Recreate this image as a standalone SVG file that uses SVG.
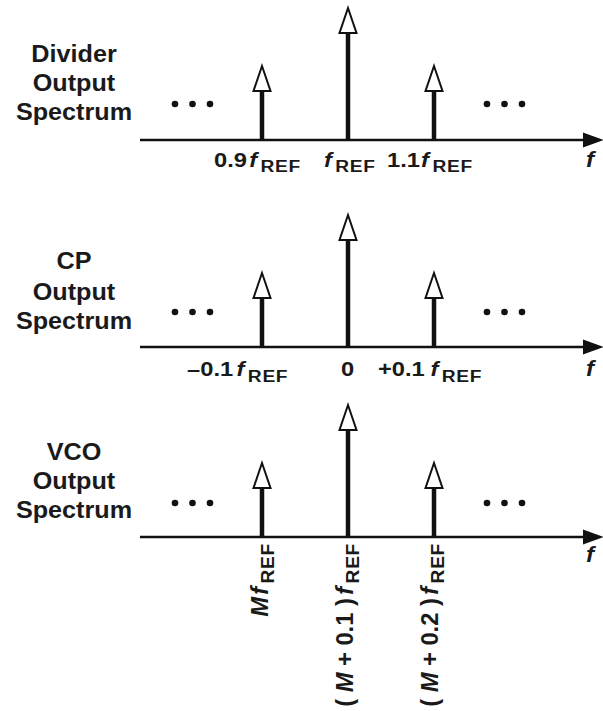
<svg xmlns="http://www.w3.org/2000/svg" xmlns:xlink="http://www.w3.org/1999/xlink" width="603" height="711" viewBox="0 0 603 711">
<style>
.t{font-family:"Liberation Sans",Arial,Helvetica,sans-serif;font-weight:bold;fill:#1a1a1a}
.title{font-size:24px;text-anchor:middle}
.lab{font-size:21px}
.i{font-style:italic}
.sub{font-size:17px;letter-spacing:0.6px}
.fx{font-size:22px;font-style:italic}
.axis{stroke:#111;stroke-width:2.5;fill:none}
.stem{stroke:#111;stroke-width:4.5}
.head{fill:#fff;stroke:#111;stroke-width:2;stroke-linejoin:miter}
.dot{fill:#111}
</style>
<defs>
<g id="tall"><line class="stem" x1="0" y1="0" x2="0" y2="-107"/><polygon class="head" points="0,-132 -8.5,-107 8.5,-107"/></g>
<g id="small"><line class="stem" x1="0" y1="0" x2="0" y2="-49"/><polygon class="head" points="0,-74 -8.5,-49 8.5,-49"/></g>
<g id="axis"><line class="axis" x1="140" y1="0" x2="586" y2="0"/><polygon fill="#111" points="604,0 583,-7.5 583,7.5"/></g>
<g id="dots"><circle class="dot" cx="0" cy="0" r="3.3"/><circle class="dot" cx="17.5" cy="0" r="3.3"/><circle class="dot" cx="35" cy="0" r="3.3"/></g>
</defs>

<g id="panel-divider">
  <g id="title-divider" transform="translate(74,0) scale(1.05,1)"><text class="t title"><tspan x="0" y="62">Divider</tspan><tspan x="0" y="91">Output</tspan><tspan x="0" y="120">Spectrum</tspan></text></g>
  <g id="connectors-divider"><use xlink:href="#axis" href="#axis" y="140"/></g>
  <g id="spike-div-09"><use xlink:href="#small" href="#small" x="262" y="140"/></g>
  <g id="spike-div-10"><use xlink:href="#tall" href="#tall" x="348" y="140"/></g>
  <g id="spike-div-11"><use xlink:href="#small" href="#small" x="434" y="140"/></g>
  <use xlink:href="#dots" href="#dots" x="175" y="104"/>
  <use xlink:href="#dots" href="#dots" x="487" y="104"/>
  <g transform="translate(214,167) scale(1.13,1)"><text class="t lab">0.9<tspan class="i" dx="2">f</tspan><tspan class="sub" dx="3" dy="5">REF</tspan></text></g>
  <g transform="translate(324,167) scale(1.13,1)"><text class="t lab"><tspan class="i">f</tspan><tspan class="sub" dx="3" dy="5">REF</tspan></text></g>
  <g transform="translate(387,167) scale(1.13,1)"><text class="t lab">1.1<tspan class="i" dx="1">f</tspan><tspan class="sub" dx="3" dy="5">REF</tspan></text></g>
  <g transform="translate(586,167) scale(1.1,1)"><text class="t fx">f</text></g>
</g>

<g id="panel-cp">
  <g id="title-cp" transform="translate(74,0) scale(1.05,1)"><text class="t title"><tspan x="0" y="269">CP</tspan><tspan x="0" y="300">Output</tspan><tspan x="0" y="329">Spectrum</tspan></text></g>
  <g id="connectors-cp"><use xlink:href="#axis" href="#axis" y="347"/></g>
  <g id="spike-cp-m01"><use xlink:href="#small" href="#small" x="262" y="347"/></g>
  <g id="spike-cp-0"><use xlink:href="#tall" href="#tall" x="348" y="347"/></g>
  <g id="spike-cp-p01"><use xlink:href="#small" href="#small" x="434" y="347"/></g>
  <use xlink:href="#dots" href="#dots" x="175" y="312"/>
  <use xlink:href="#dots" href="#dots" x="487" y="312"/>
  <g transform="translate(187,376) scale(1.13,1)"><text class="t lab">–0.1<tspan class="i" dx="3">f</tspan><tspan class="sub" dx="3" dy="6">REF</tspan></text></g>
  <g transform="translate(347.5,376) scale(1.13,1)"><text class="t lab" text-anchor="middle">0</text></g>
  <g transform="translate(378,376) scale(1.13,1)"><text class="t lab">+0.1<tspan class="i" dx="5">f</tspan><tspan class="sub" dx="3" dy="6">REF</tspan></text></g>
  <g transform="translate(586,376) scale(1.1,1)"><text class="t fx">f</text></g>
</g>

<g id="panel-vco">
  <g id="title-vco" transform="translate(74,0) scale(1.05,1)"><text class="t title"><tspan x="0" y="460">VCO</tspan><tspan x="0" y="489">Output</tspan><tspan x="0" y="518">Spectrum</tspan></text></g>
  <g id="connectors-vco"><use xlink:href="#axis" href="#axis" y="537"/></g>
  <g id="spike-vco-m"><use xlink:href="#small" href="#small" x="262" y="537"/></g>
  <g id="spike-vco-m01"><use xlink:href="#tall" href="#tall" x="348" y="537"/></g>
  <g id="spike-vco-m02"><use xlink:href="#small" href="#small" x="434" y="537"/></g>
  <use xlink:href="#dots" href="#dots" x="175" y="503"/>
  <use xlink:href="#dots" href="#dots" x="487" y="503"/>
  <g transform="translate(268,543) rotate(-90) scale(1.13,1.12)"><text class="t lab" text-anchor="end"><tspan class="i">M</tspan><tspan class="i" dx="2">f</tspan><tspan class="sub" dx="3" dy="5">REF</tspan></text></g>
  <g transform="translate(353,543) rotate(-90) scale(1.13,1.12)"><text class="t lab" text-anchor="end">( <tspan class="i">M</tspan> + 0.1 )<tspan class="i" dx="3">f</tspan><tspan class="sub" dx="3" dy="5">REF</tspan></text></g>
  <g transform="translate(438,543) rotate(-90) scale(1.13,1.12)"><text class="t lab" text-anchor="end">( <tspan class="i">M</tspan> + 0.2 )<tspan class="i" dx="3">f</tspan><tspan class="sub" dx="3" dy="5">REF</tspan></text></g>
  <g transform="translate(586,562) scale(1.1,1)"><text class="t fx">f</text></g>
</g>
</svg>
